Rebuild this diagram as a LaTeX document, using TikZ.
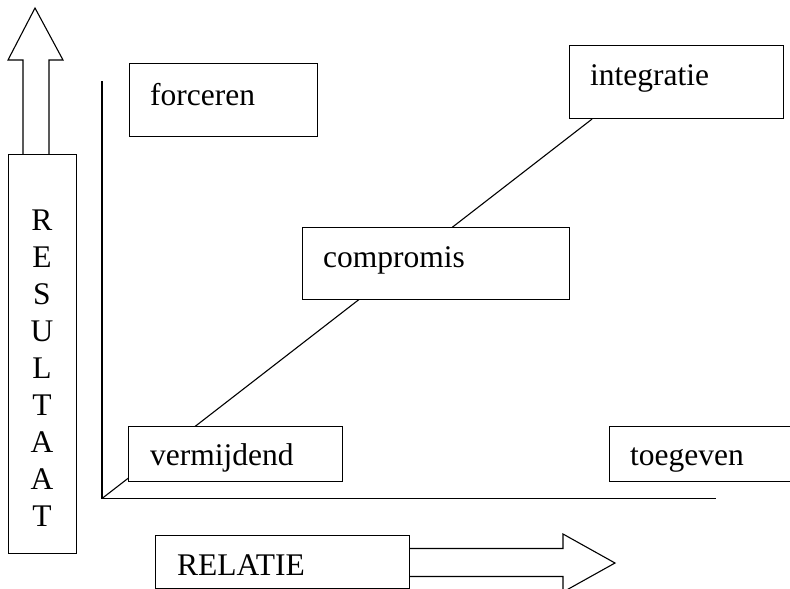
\documentclass[tikz,border=0pt]{standalone}
\usepackage{fontspec}
\setmainfont{Liberation Serif}
\usetikzlibrary{calc,backgrounds}
\begin{document}
\begin{tikzpicture}[x=1pt,y=-1pt,
  box/.style={draw=black,fill=white,line width=1.1pt,inner sep=0pt,anchor=north west},
  lbl/.style={anchor=base west,inner sep=0pt,font=\fontsize{31.5}{37}\selectfont},
  letter/.style={anchor=base,inner sep=0pt,font=\fontsize{31.5}{37}\selectfont},
  axis/.style={line width=1.3pt},
  bigarrow/.style={draw=black,line width=1.1pt,line join=miter}]
\useasboundingbox (0,0) rectangle (790,589);
% axes
\coordinate (O) at (102,498.5);
\coordinate (Ytop) at (102,81);
\coordinate (Xend) at (716,498.5);
\draw[axis] (Ytop) -- (O) -- (Xend);
% boxes
\node[box,minimum width=188pt,minimum height=73pt] (forc) at (129,63) {};
\node[lbl] (forcT) at ($(forc.north west)+(21,42)$) {forceren};
\node[box,minimum width=214pt,minimum height=73pt] (integ) at (569,45) {};
\node[lbl] (integT) at ($(integ.north west)+(21,40)$) {integratie};
\node[box,minimum width=267pt,minimum height=72pt] (comp) at (302,227) {};
\node[lbl] (compT) at ($(comp.north west)+(21,40)$) {compromis};
\node[box,minimum width=214pt,minimum height=55pt] (verm) at (128,426) {};
\node[lbl] (vermT) at ($(verm.north west)+(22,39)$) {vermijdend};
\node[box,minimum width=230pt,minimum height=55pt] (toeg) at (609,426) {};
\node[lbl] (toegT) at ($(toeg.north west)+(21,39)$) {toegeven};
\node[box,minimum width=254pt,minimum height=53pt] (rel) at (155,535) {};
\node[lbl] (relT) at ($(rel.north west)+(22,40)$) {RELATIE};
% diagonal line behind boxes
\begin{scope}[on background layer]
\draw[line width=1.1pt] (O) -- ($(integ.south west)+(23,0)$);
\end{scope}
% RESULTAAT box and arrow
\node[box,minimum width=68pt,minimum height=399pt] (res) at (8,154) {};
\foreach \l [count=\i from 0] in {R,E,S,U,L,T,A,A,T}
  \node[letter] (r\i) at (42,{230+37.1*\i}) {\l};
\draw[bigarrow] (23,154) -- (23,60) -- (8,60) -- (35,8) -- (63,60) -- (49,60) -- (49,154);
% RELATIE arrow
\draw[bigarrow] (409,548.5) -- (563,548.5) -- (563,534) -- (615,563) -- (563,592) -- (563,576.5) -- (409,576.5);
\end{tikzpicture}
\end{document}
